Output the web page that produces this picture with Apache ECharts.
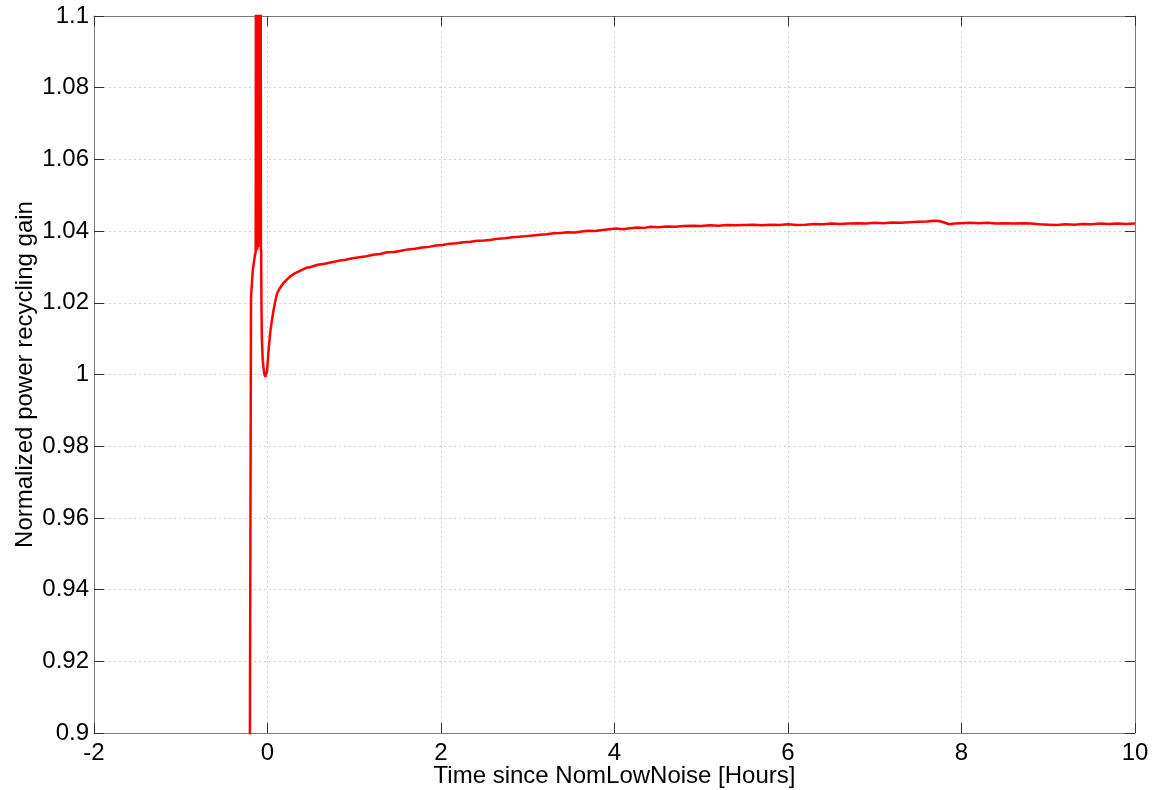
<!DOCTYPE html>
<html>
<head>
<meta charset="utf-8">
<script src="https://cdn.jsdelivr.net/npm/echarts@6/dist/echarts.min.js"></script>
<style>
html,body{margin:0;padding:0;background:#fff;}
#chart{width:1152px;height:790px;}
</style>
</head>
<body>
<div id="chart"></div>
<script>
const xTicks = [-2, 0, 2, 4, 6, 8, 10];
const yTicks = [0.9, 0.92, 0.94, 0.96, 0.98, 1, 1.02, 1.04, 1.06, 1.08, 1.1];
const xTitle = 'Time since NomLowNoise [Hours]';
const yTitle = 'Normalized power recycling gain';

const timeHours = [
  -0.205, -0.190, -0.170, -0.145, -0.136, -0.133, -0.130, -0.127, -0.124, -0.121,
  -0.118, -0.115, -0.112, -0.109, -0.106, -0.103, -0.100, -0.097, -0.094, -0.091,
  -0.088, -0.085, -0.082, -0.079, -0.076, -0.073, -0.070, -0.065, -0.055,
  -0.040, -0.025, -0.015, -0.005, 0.010, 0.030, 0.050, 0.070, 0.090, 0.110,
  0.140, 0.180, 0.220, 0.260, 0.320, 0.380, 0.440, 0.500, 0.580, 0.660,
  0.740, 0.820, 0.900, 0.980, 1.060, 1.140, 1.220, 1.300, 1.380, 1.460,
  1.540, 1.620, 1.700, 1.780, 1.860, 1.940, 2.020, 2.100, 2.180, 2.260,
  2.340, 2.420, 2.500, 2.580, 2.660, 2.740, 2.820, 2.900, 2.980, 3.060,
  3.140, 3.220, 3.300, 3.380, 3.460, 3.540, 3.620, 3.700, 3.780, 3.860,
  3.940, 4.020, 4.100, 4.180, 4.260, 4.340, 4.420, 4.500, 4.600, 4.700,
  4.800, 4.900, 5.000, 5.100, 5.200, 5.300, 5.400, 5.500, 5.600, 5.700,
  5.800, 5.900, 6.000, 6.100, 6.200, 6.300, 6.400, 6.500, 6.600, 6.700,
  6.800, 6.900, 7.000, 7.100, 7.200, 7.300, 7.400, 7.500, 7.600, 7.680,
  7.740, 7.800, 7.860, 7.920, 8.000, 8.100, 8.200, 8.300, 8.400, 8.500,
  8.600, 8.700, 8.800, 8.900, 9.000, 9.100, 9.200, 9.300, 9.400, 9.500,
  9.600, 9.700, 9.800, 9.900, 10.000
];
const gain = [
  0.880, 1.0217, 1.0290, 1.0333, 1.0342, 1.1300, 1.0345, 1.1300, 1.0352, 1.1300,
  1.0348, 1.1300, 1.0360, 1.1300, 1.0355, 1.1300, 1.0370, 1.1300, 1.0400, 1.1300,
  1.0380, 1.1300, 1.0450, 1.1300, 1.0360, 1.0340, 1.0200, 1.0100, 1.0040,
  1.0005, 0.9993, 0.9994, 1.0010, 1.0060, 1.0115, 1.0150, 1.0180, 1.0205, 1.0226,
  1.0240, 1.0254, 1.0264, 1.0273, 1.0283, 1.0290, 1.0297, 1.0300, 1.0306, 1.0309,
  1.0313, 1.0317, 1.0320, 1.0324, 1.0327, 1.0330, 1.0334, 1.0336, 1.0341, 1.0342,
  1.0345, 1.0349, 1.0351, 1.0354, 1.0356, 1.0360, 1.0361, 1.0365, 1.0366, 1.0369,
  1.0370, 1.0373, 1.0374, 1.0376, 1.0379, 1.0380, 1.0383, 1.0384, 1.0386, 1.0388,
  1.0390, 1.0391, 1.0394, 1.0395, 1.0397, 1.0396, 1.0399, 1.0401, 1.0400, 1.0403,
  1.0405, 1.0407, 1.0405, 1.0408, 1.0410, 1.0409, 1.0412, 1.0411, 1.0413, 1.0412,
  1.0414, 1.0415, 1.0414, 1.0416, 1.0415, 1.0417, 1.0416, 1.0417, 1.0418, 1.0416,
  1.0418, 1.0417, 1.0419, 1.0417, 1.0418, 1.0420, 1.0419, 1.0421, 1.0420, 1.0421,
  1.0422, 1.0421, 1.0423, 1.0422, 1.0424, 1.0423, 1.0425, 1.0426, 1.0427, 1.0429,
  1.0428, 1.0424, 1.0419, 1.0421, 1.0422, 1.0423, 1.0422, 1.0423, 1.0421, 1.0422,
  1.0421, 1.0422, 1.0421, 1.0419, 1.0418, 1.0417, 1.0419, 1.0418, 1.0420, 1.0419,
  1.0421, 1.0420, 1.0421, 1.0420, 1.0421
];

const points = timeHours.map((t, i) => [t, gain[i]]);
const FONT = 'Liberation Sans, Arial, Helvetica, sans-serif';
const fmt = v => String(+(+v).toFixed(2));

const xMin = xTicks[0], xMax = xTicks[xTicks.length - 1], xStep = xTicks[1] - xTicks[0];
const yMin = yTicks[0], yMax = yTicks[yTicks.length - 1];
const yStep = +(yTicks[1] - yTicks[0]).toFixed(2);

const frameLine = { show: true, onZero: false, lineStyle: { color: '#7a7a7a', width: 1 } };
const tickIn = { show: true, inside: true, length: 10, lineStyle: { color: '#333', width: 1 } };
const gridDots = { show: true, lineStyle: { color: '#d2d2d2', width: 1, type: [2, 3] } };

const chart = echarts.init(document.getElementById('chart'), null, { renderer: 'canvas' });
chart.setOption({
  animation: false,
  backgroundColor: '#ffffff',
  grid: { left: 94, right: 17, top: 16, bottom: 57, containLabel: false, outerBoundsMode: 'none' },
  xAxis: [
    {
      type: 'value', position: 'bottom', min: xMin, max: xMax, interval: xStep,
      axisLine: frameLine, axisTick: tickIn, splitLine: gridDots,
      axisLabel: { show: true, fontSize: 24, color: '#000', margin: 8, fontFamily: FONT, formatter: fmt },
      name: xTitle, nameLocation: 'middle', nameGap: 31, nameMoveOverlap: false,
      nameTextStyle: { fontSize: 24, color: '#000', fontFamily: FONT }
    },
    {
      type: 'value', position: 'top', min: xMin, max: xMax, interval: xStep,
      axisLine: frameLine, axisTick: tickIn, splitLine: { show: false },
      axisLabel: { show: false }
    }
  ],
  yAxis: [
    {
      type: 'value', position: 'left', min: yMin, max: yMax, interval: yStep,
      axisLine: frameLine, axisTick: tickIn, splitLine: gridDots,
      axisLabel: { show: true, fontSize: 24, color: '#000', margin: 5, fontFamily: FONT, formatter: fmt },
      name: yTitle, nameLocation: 'middle', nameGap: 57, nameMoveOverlap: false,
      nameTextStyle: { fontSize: 24, color: '#000', fontFamily: FONT }
    },
    {
      type: 'value', position: 'right', min: yMin, max: yMax, interval: yStep,
      axisLine: frameLine, axisTick: tickIn, splitLine: { show: false },
      axisLabel: { show: false }
    }
  ],
  series: [
    {
      type: 'line', xAxisIndex: 0, yAxisIndex: 0,
      data: points, showSymbol: false, symbol: 'none', clip: true,
      lineStyle: { color: '#ff0000', width: 2.5 },
      itemStyle: { color: '#ff0000' }
    }
  ]
});
</script>
</body>
</html>
